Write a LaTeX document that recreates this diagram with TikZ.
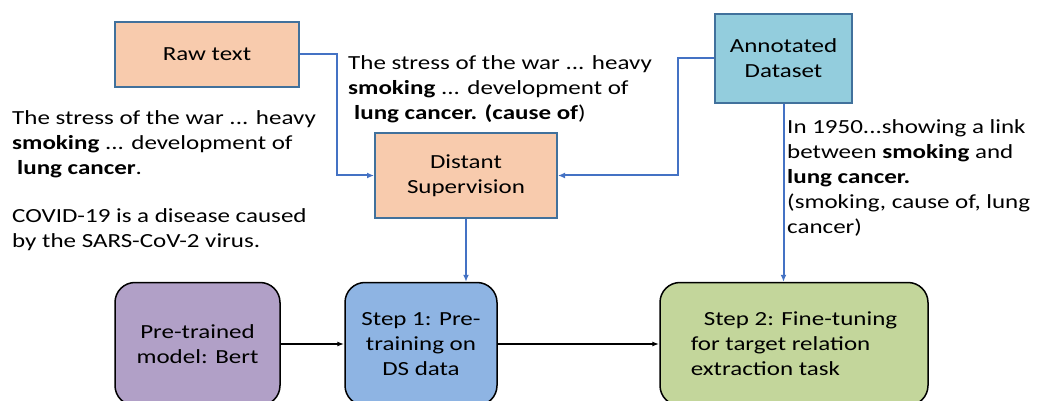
\documentclass[tikz,border=0pt]{standalone}
\usepackage{fontspec}
\setmainfont{Carlito}[FakeStretch=1.25]
\usetikzlibrary{arrows.meta}

\definecolor{peach}{HTML}{F8CBAD}
\definecolor{aqua}{HTML}{93CDDD}
\definecolor{boxblue}{HTML}{41719C}
\definecolor{linkblue}{HTML}{4472C4}
\definecolor{lilac}{HTML}{B1A0C7}
\definecolor{skyblue}{HTML}{8EB4E3}
\definecolor{olive}{HTML}{C3D69B}

\tikzset{
 sqbox/.style={draw=boxblue,line width=2pt,inner sep=0pt,align=center},
 rbox/.style={draw=black,line width=1.5pt,rounded corners=20pt,inner sep=0pt,
   minimum height=123pt},
 link/.style={draw=linkblue,line width=2pt,-{Latex[length=7pt,width=6pt]}},
 flow/.style={draw=black,line width=1.5pt,-{Latex[length=7pt,width=5pt]}},
 note/.style={anchor=north west,inner sep=0pt,align=left}
}

\begin{document}
\begin{tikzpicture}[x=1pt,y=-1pt,font=\fontsize{20}{25}\selectfont]
\useasboundingbox (0,0) rectangle (1053,401);

\node[sqbox,fill=peach,minimum width=184pt,minimum height=65pt] (raw) at (207,54.5) {Raw text};
\node[sqbox,fill=peach,minimum width=182pt,minimum height=85pt] (ds) at (466,175.5) {Distant\\Supervision};
\node[sqbox,fill=aqua,minimum width=137pt,minimum height=89pt] (ann) at (783.5,58.5) {Annotated\\Dataset};

\node[rbox,fill=lilac,minimum width=165pt,align=center] (bert) at (197.5,344) {Pre-trained\\model: Bert};
\node[rbox,fill=skyblue,minimum width=152pt,align=center] (step1) at (421,344) {Step 1: Pre-\\training on\\DS data};
\node[rbox,fill=olive,minimum width=268pt,align=left] (step2) at (794,344) {\hspace*{13pt}Step 2: Fine-tuning\\for target relation\\extraction task};

\node[note] (rawtxt) at (12,110) {The stress of the war ... heavy\\
\textbf{smoking} ... development of\\
\hspace*{5pt}\textbf{lung cancer}.\\[23pt]
COVID-19 is a disease caused\\
by the SARS-CoV-2 virus.};
\node[note] (dstxt) at (348,55) {The stress of the war ... heavy\\
\textbf{smoking} ... development of\\
\hspace*{6pt}\textbf{lung cancer. (cause of}) };
\node[note] (anntxt) at (787,119) {In 1950...showing a link\\
between \textbf{smoking} and\\
\textbf{lung cancer.}\\
(smoking, cause of, lung\\
cancer)};

\coordinate (rawbend) at (337,115);
\coordinate (annbend) at (678,115);

\draw[link] (raw.east) -| (rawbend) |- (ds.west);
\draw[link] (ann.west) -| (annbend) |- (ds.east);
\draw[link] (ds.south) -- (ds.south |- step1.north);
\draw[link] (ann.south) -- (ann.south |- step2.north);
\draw[flow] (bert.east) -- (step1.west);
\draw[flow] (step1.east) -- (step2.west);
\end{tikzpicture}
\end{document}
